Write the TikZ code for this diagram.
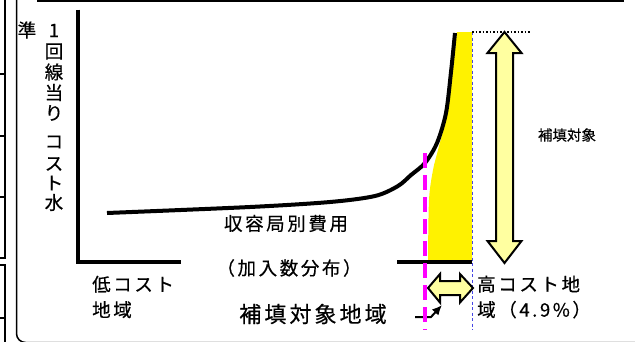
\documentclass[tikz,border=0pt]{standalone}
\usepackage{fontspec}
\setmainfont[FakeBold=0.5]{Noto Sans CJK JP}
\newfontfamily\jpsp[LetterSpace=14,FakeBold=0.5]{Noto Sans CJK JP}
\usepackage{tikz}
\usetikzlibrary{calc,arrows.meta,positioning}
\definecolor{pale}{RGB}{255,255,160}
\definecolor{mag}{RGB}{255,0,255}
\definecolor{dblue}{RGB}{70,70,230}

\begin{document}
\begin{tikzpicture}[x=1pt,y=-1pt,line join=miter,
  lab/.style={font=\jpsp\fontsize{18.5}{25.5}\selectfont,inner sep=0pt,align=left},
  vt/.style={font=\fontsize{18.5}{20}\selectfont,inner sep=0pt},
  big/.style={font=\jpsp\fontsize{22}{24}\selectfont,inner sep=0pt},
  small/.style={font=\fontsize{14.5}{16}\selectfont,inner sep=0pt},
  fat/.style={draw,line width=2pt,fill=pale}]
\clip (0,0) rectangle (635,341);
\draw[line width=2pt] (38,-5)--(38,1)--(623,1)--(623,-5);
\draw[line width=2.5pt] (5,-5)--(5,258)--(0,258) (0,265)--(5,265)--(5,346);
\foreach \y in {74,136,197,318}{\draw[line width=2pt] (0,\y)--(5,\y);}
\draw[line width=1.5pt,rounded corners=9pt] (16.5,-5)--(16.5,342.5)--(640,342.5);
\coordinate (Y) at (78,9.5);
\coordinate (O) at (78,262);
\coordinate (A) at (181,262);
\coordinate (B) at (397,262);
\coordinate (C) at (472,262);
\coordinate (D) at (472,32);
\coordinate (E) at (530,32);
\fill[yellow] plot[smooth] coordinates {(428,262) (429,200) (433,170) (438,150) (445,122) (451,85) (457,32)} -- (D) -- (C) -- cycle;
\draw[line width=4pt] plot[smooth,tension=0.5] coordinates {(107,213) (250,207) (330,202) (375,196) (398,186) (411,175) (425,163) (437,143) (446,113) (451,72) (455,33)};
\draw[line width=3.5pt] (Y)--(O)--(A) (B)--(C);
\draw[dblue,line width=1pt,dash pattern=on 3pt off 2.5pt] (D)--(472,330);
\draw[dotted,line width=1.5pt] (D)--(E);
\draw[fat] (504.5,32)--(521.5,53)--(513,53)--(513,241)--(521.5,241)--(504.5,263)--(487.5,241)--(496,241)--(496,53)--(487.5,53)--cycle;
\draw[fat] (428,288)--(440,274)--(440,281)--(460,281)--(460,274)--(473,288)--(460,302.5)--(460,295)--(440,295)--(440,302.5)--cycle;
\draw[line width=2pt,-{Latex[length=10pt,width=9pt]}] (415,317)--(431,317)--(442,305);
\draw[mag,line width=3.5pt,dash pattern=on 15pt off 7pt] (425,153)--(425,330);
\node[vt] (z) at (27,30) {準};
\foreach \c/\y [count=\k] in {1/30.5,回/51.5,線/72,当/92.5,り/113,コ/142,ス/164,ト/183,水/202.5}{\node[vt] (v\k) at (54,\y) {\c};}
\node[lab] (F) at (286,223.5) {収容局別費用};
\node[lab] (G) at (289,268) {（加入数分布）};
\node[lab,anchor=west] (L) at (92,297) {低コスト\\地域};
\node[lab,anchor=west] (H) at (477,297) {高コスト地\\域（4.9\%）};
\node[big] (S) at (313,314) {補填対象地域};
\node[small] (T) at (567,135) {補填対象};
\end{tikzpicture}
\end{document}
